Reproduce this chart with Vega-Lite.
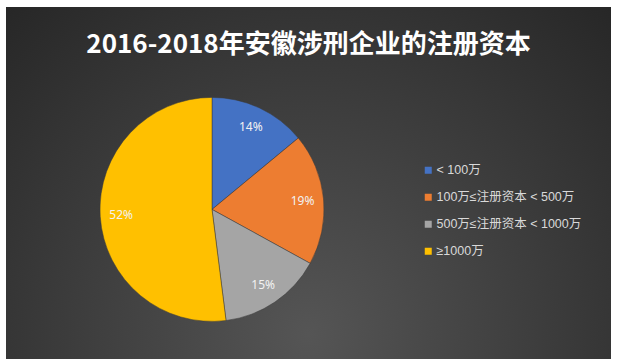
{
  "$schema": "https://vega.github.io/schema/vega-lite/v6.json",
  "width": 617,
  "height": 363,
  "autosize": {"type": "fit", "contains": "padding"},
  "padding": {"left": 6, "top": 7, "right": 6, "bottom": 4},
  "background": "#ffffff",
  "title": {
    "text": "2016-2018年安徽涉刑企业的注册资本",
    "orient": "top",
    "anchor": "middle",
    "frame": "group",
    "offset": -72,
    "baseline": "alphabetic",
    "font": "Noto Sans CJK SC",
    "fontSize": 26,
    "fontWeight": "bold",
    "color": "#ffffff"
  },
  "data": {
    "values": [
      {"category": "< 100万", "value": 14, "label": "14%", "order": 1},
      {"category": "100万≤注册资本 < 500万", "value": 19, "label": "19%", "order": 2},
      {"category": "500万≤注册资本 < 1000万", "value": 15, "label": "15%", "order": 3},
      {"category": "≥1000万", "value": 52, "label": "52%", "order": 4}
    ]
  },
  "layer": [
    {
      "data": {"values": [{"panel": "background"}]},
      "mark": {
        "type": "rect",
        "color": {
          "gradient": "radial",
          "x1": 0.5, "y1": 0.75, "r1": 0,
          "x2": 0.5, "y2": 0.75, "r2": 0.75,
          "stops": [
            {"offset": 0, "color": "#555555"},
            {"offset": 1, "color": "#262626"}
          ]
        }
      },
      "encoding": {}
    },
    {
      "mark": {
        "type": "arc",
        "outerRadius": 112,
        "x": {"expr": "width * 0.3405"},
        "y": {"expr": "height * 0.575"},
        "stroke": "#3a3a3a",
        "strokeWidth": 0.5
      },
      "encoding": {
        "theta": {"field": "value", "type": "quantitative", "stack": true},
        "order": {"field": "order", "type": "quantitative"},
        "color": {
          "field": "category",
          "type": "nominal",
          "scale": {
            "domain": ["< 100万", "100万≤注册资本 < 500万", "500万≤注册资本 < 1000万", "≥1000万"],
            "range": ["#4472C4", "#ED7D31", "#A5A5A5", "#FFC000"]
          },
          "legend": {
            "title": null,
            "orient": "none",
            "legendX": 416,
            "legendY": 157,
            "symbolType": "square",
            "symbolSize": 49,
            "symbolStrokeWidth": 0,
            "labelColor": "#d9d9d9",
            "labelFont": "Liberation Sans, Noto Sans CJK SC",
            "labelFontSize": 12.5,
            "labelOffset": 2,
            "rowPadding": 14,
            "padding": 0,
            "labelLimit": 300,
            "labelExpr": "datum.label == '< 100万' ? '\u00a0< 100万' : datum.label"
          }
        }
      }
    },
    {
      "mark": {
        "type": "text",
        "radius": 91,
        "x": {"expr": "width * 0.3405"},
        "y": {"expr": "height * 0.575"},
        "font": "Noto Sans, Noto Sans CJK SC",
        "fontSize": 12,
        "fill": "#f2f2f2"
      },
      "encoding": {
        "theta": {"field": "value", "type": "quantitative", "stack": true},
        "order": {"field": "order", "type": "quantitative"},
        "text": {"field": "label", "type": "nominal"}
      }
    }
  ],
  "config": {
    "view": {"stroke": null}
  }
}
